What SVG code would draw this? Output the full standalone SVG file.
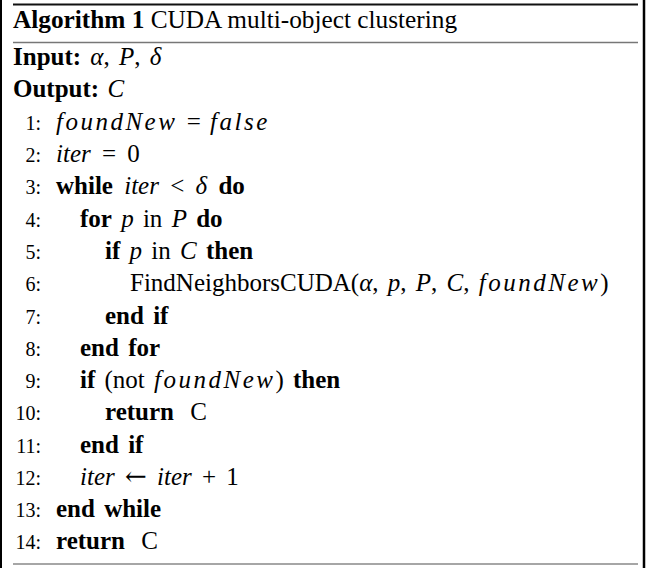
<svg xmlns="http://www.w3.org/2000/svg" width="652" height="568" viewBox="0 0 652 568">
<style>
text{font-family:"Liberation Serif","Times New Roman",serif;font-size:25px;fill:#000}
#body text,#input text{word-spacing:3px}
.b{font-weight:bold}
.m{font-style:italic}
.w{font-style:italic;letter-spacing:2.5px}
.a{font-family:"DejaVu Serif",serif;font-size:26px}
.n{font-size:20px}
</style>
<rect x="0" y="0" width="652" height="568" fill="#fff"/>
<g id="frame">
<line x1="1" y1="0" x2="1" y2="568" stroke="#000" stroke-width="2"/>
<line x1="644" y1="0" x2="644" y2="568" stroke="#000" stroke-width="2.5"/>
<line x1="13" y1="4.5" x2="638" y2="4.5" stroke="#111" stroke-width="2"/>
<line x1="13" y1="42.5" x2="638" y2="42.5" stroke="#777" stroke-width="1.4"/>
<line x1="13" y1="564" x2="638" y2="564" stroke="#888" stroke-width="1.4"/>
</g>
<g id="title"><text x="13" y="28" style="font-size:25.3px"><tspan class="b">Algorithm 1</tspan> CUDA multi-object clustering</text></g>
<g id="input"><text x="13" y="65"><tspan class="b">Input:</tspan> <tspan class="m">α</tspan>, <tspan class="m">P</tspan>, <tspan class="m">δ</tspan></text></g>
<g id="output"><text x="13" y="97"><tspan class="b">Output:</tspan> <tspan class="m" dx="2">C</tspan></text></g>
<g id="numbers">
<text class="n" x="41" y="130" text-anchor="end">1:</text>
<text class="n" x="41" y="162" text-anchor="end">2:</text>
<text class="n" x="41" y="194" text-anchor="end">3:</text>
<text class="n" x="41" y="227" text-anchor="end">4:</text>
<text class="n" x="41" y="259" text-anchor="end">5:</text>
<text class="n" x="41" y="291" text-anchor="end">6:</text>
<text class="n" x="41" y="324" text-anchor="end">7:</text>
<text class="n" x="41" y="356" text-anchor="end">8:</text>
<text class="n" x="41" y="388" text-anchor="end">9:</text>
<text class="n" x="41" y="420" text-anchor="end">10:</text>
<text class="n" x="41" y="453" text-anchor="end">11:</text>
<text class="n" x="41" y="485" text-anchor="end">12:</text>
<text class="n" x="41" y="517" text-anchor="end">13:</text>
<text class="n" x="41" y="549" text-anchor="end">14:</text>
</g>
<g id="body">
<text x="56" y="130"><tspan class="w">foundNew</tspan> = <tspan class="w">false</tspan></text>
<text x="56" y="162" style="word-spacing:5px"><tspan class="m">iter</tspan> = 0</text>
<text x="56" y="194" style="word-spacing:5px"><tspan class="b">while</tspan> <tspan class="m">iter</tspan> &lt; <tspan class="m">δ</tspan> <tspan class="b">do</tspan></text>
<text x="80" y="227"><tspan class="b">for</tspan> <tspan class="m">p</tspan> in <tspan class="m">P</tspan> <tspan class="b">do</tspan></text>
<text x="105" y="259"><tspan class="b">if</tspan> <tspan class="m">p</tspan> in <tspan class="m">C</tspan> <tspan class="b">then</tspan></text>
<text x="130" y="291">FindNeighborsCUDA(<tspan class="m">α</tspan>, <tspan class="m">p</tspan>, <tspan class="m">P</tspan>, <tspan class="m">C</tspan>, <tspan class="w">foundNew</tspan>)</text>
<text x="105" y="324"><tspan class="b">end if</tspan></text>
<text x="80" y="356"><tspan class="b">end for</tspan></text>
<text x="80" y="388"><tspan class="b">if</tspan> (not <tspan class="w">foundNew</tspan>) <tspan class="b">then</tspan></text>
<text x="105" y="420"><tspan class="b">return</tspan> <tspan dx="7">C</tspan></text>
<text x="80" y="453"><tspan class="b">end if</tspan></text>
<text x="80" y="485" style="word-spacing:4px"><tspan class="m">iter</tspan> <tspan class="a">←</tspan> <tspan class="m">iter</tspan> + 1</text>
<text x="56" y="517"><tspan class="b">end while</tspan></text>
<text x="56" y="549"><tspan class="b">return</tspan> <tspan dx="7">C</tspan></text>
</g>
</svg>
